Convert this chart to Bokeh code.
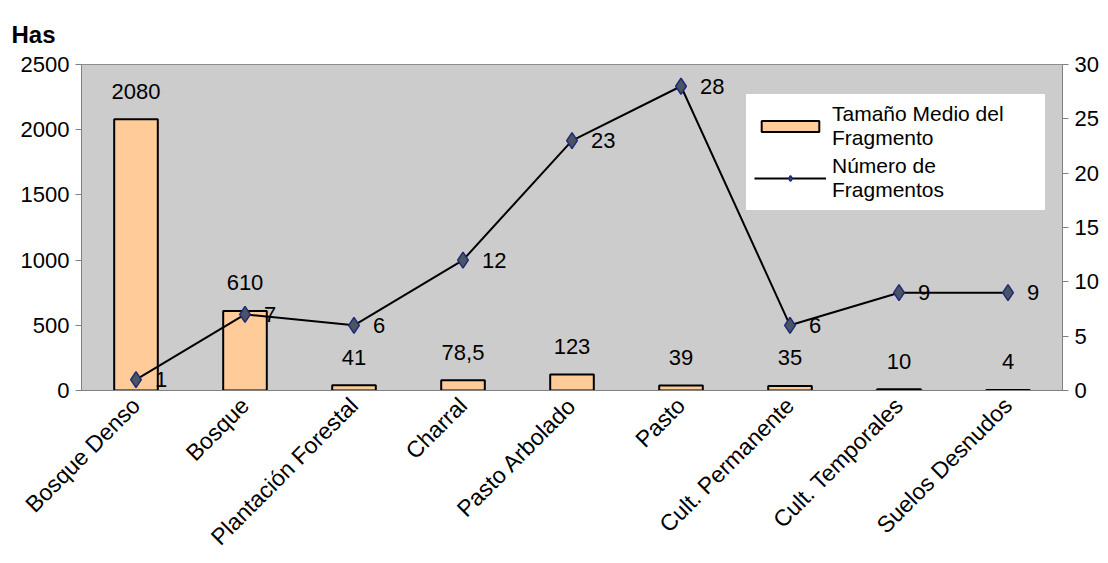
from bokeh.plotting import figure
from bokeh.models import (ColumnDataSource, FactorRange, Range1d, LinearAxis,
                          FixedTicker, LabelSet, Legend, LegendItem)
from bokeh.core.properties import value
from bokeh.embed import file_html
from bokeh.resources import INLINE
import math

categorias = ["Bosque Denso", "Bosque", "Plantación Forestal", "Charral",
              "Pasto Arbolado", "Pasto", "Cult. Permanente",
              "Cult. Temporales", "Suelos Desnudos"]
tamano_medio = [2080, 610, 41, 78.5, 123, 39, 35, 10, 4]
tamano_texto = ["2080", "610", "41", "78,5", "123", "39", "35", "10", "4"]
num_fragmentos = [1, 7, 6, 12, 23, 28, 6, 9, 9]
ticks_izq = [0, 500, 1000, 1500, 2000, 2500]
ticks_der = [0, 5, 10, 15, 20, 25, 30]

FONT = "Liberation Sans"

src = ColumnDataSource(dict(cat=categorias, tam=tamano_medio, tam_txt=tamano_texto,
                            num=num_fragmentos,
                            num_txt=[str(v) for v in num_fragmentos]))

p = figure(width=1108, height=563, x_range=FactorRange(*categorias, range_padding=0),
           y_range=Range1d(0, 2500), output_backend="svg", toolbar_location=None,
           min_border_left=81, min_border_right=46, min_border_top=64,
           min_border_bottom=173)
p.extra_y_ranges = {"der": Range1d(0, 30)}

p.title.text = "Has"
p.title.text_font = FONT
p.title.text_font_size = "24px"
p.title.text_font_style = "bold"
p.title.text_color = "black"
p.title.offset = -70
p.title.standoff = 34

p.background_fill_color = "#cccccc"
p.border_fill_color = "white"
p.outline_line_color = "#8c8c8c"
p.grid.grid_line_color = None

barras = p.vbar(x="cat", top="tam", width=0.4, source=src, fill_color="#ffcc99",
                line_color="black", line_width=2)
linea = p.line(x="cat", y="num", source=src, y_range_name="der",
               line_color="black", line_width=2)
puntos = p.scatter(x="cat", y="num", source=src, y_range_name="der", marker="diamond",
                   size=16, fill_color="#4a5462", line_color="#1f2a78", line_width=1.5)

# value labels
p.add_layout(LabelSet(x="cat", y="tam", text="tam_txt", source=src, y_offset=28,
                      text_align="center", text_baseline="middle",
                      text_font=value(FONT), text_font_size="22px", text_color="black"))
p.add_layout(LabelSet(x="cat", y="num", text="num_txt", source=src, y_range_name="der",
                      x_offset=19, text_align="left", text_baseline="middle",
                      text_font=value(FONT), text_font_size="22px", text_color="black"))

eje_der = LinearAxis(y_range_name="der", ticker=FixedTicker(ticks=ticks_der))
p.add_layout(eje_der, "right")

p.yaxis[0].ticker = FixedTicker(ticks=ticks_izq)
for ax in p.yaxis:
    ax.axis_line_color = "#808080"
    ax.major_tick_line_color = "#808080"
    ax.minor_tick_line_color = None
    ax.major_tick_out = 6
    ax.major_tick_in = 0
    ax.major_label_text_font = FONT
    ax.major_label_text_font_size = "22px"
    ax.major_label_text_color = "black"
    ax.major_label_standoff = 6

xa = p.xaxis[0]
xa.axis_line_color = "#808080"
xa.major_tick_line_color = None
xa.major_label_orientation = math.pi / 4
xa.major_label_text_font = FONT
xa.major_label_text_font_size = "23px"
xa.major_label_text_color = "black"
xa.major_label_standoff = 5

leyenda = Legend(items=[LegendItem(label="Tamaño Medio del\nFragmento", renderers=[barras]),
                        LegendItem(label="Número de\nFragmentos", renderers=[linea, puntos])],
                 location=(664, 179), label_text_font=FONT, label_text_font_size="21px",
                 label_text_line_height=1.15, label_width=205, label_text_color="black",
                 background_fill_color="white", background_fill_alpha=1,
                 border_line_color="#999999", glyph_width=72, glyph_height=14,
                 label_standoff=6, spacing=4, padding=8, margin=0)
p.add_layout(leyenda, "center")

open("out.html", "w").write(file_html(p, INLINE))
